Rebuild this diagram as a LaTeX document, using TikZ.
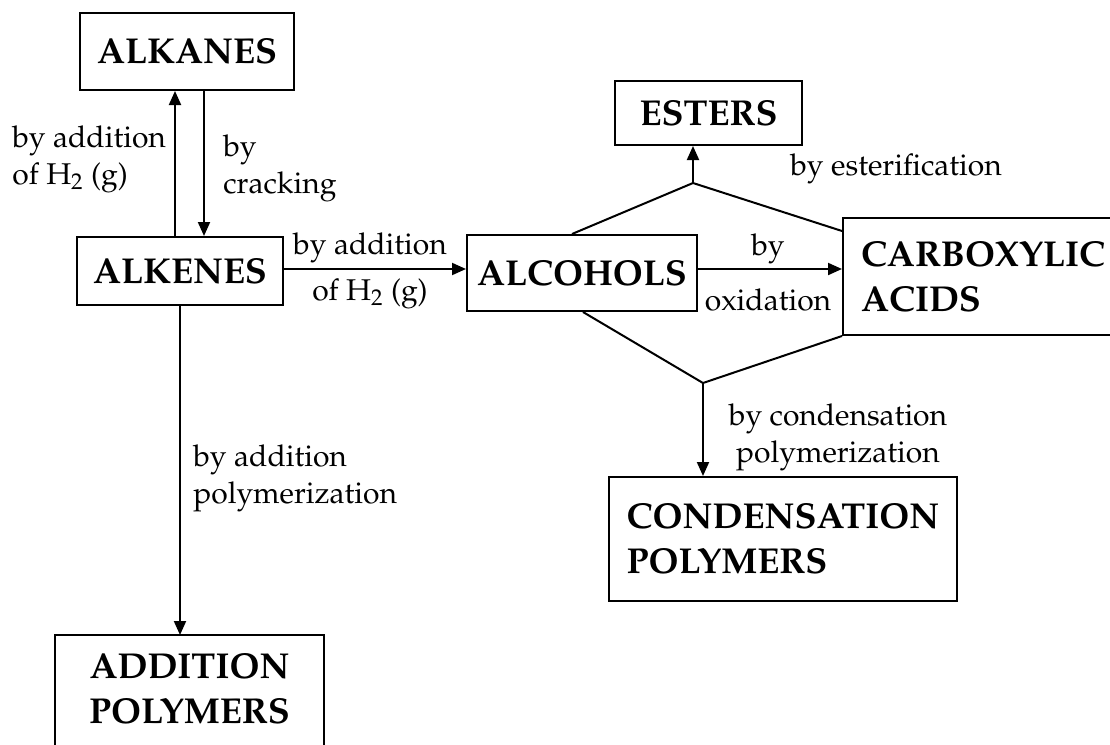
\documentclass[tikz,border=0pt]{standalone}
\usepackage[T1]{fontenc}
\usepackage{mathpazo}
\usetikzlibrary{arrows.meta,calc}
\tikzset{
  boxtext/.style={inner sep=0pt, font=\fontsize{18}{22.5}\selectfont\bfseries, align=center},
  box/.style={boxtext, draw, line width=1pt},
  lbl/.style={inner sep=0pt, font=\fontsize{15}{18.5}\selectfont},
  conn/.style={line width=1pt},
  arr/.style={line width=1pt, -{Triangle[length=7pt,width=6pt]}},
}
\begin{document}
\begin{tikzpicture}[x=0.5pt,y=-0.5pt]
\useasboundingbox (0,0) rectangle (1110,745);
\clip (0,0) rectangle (1110,745);
% boxes
\node[box, minimum width=107pt, minimum height=38.5pt] (alkanes) at (187,51.5) {ALKANES};
\node[box, minimum width=103pt, minimum height=34pt] (alkenes) at (180,271) {ALKENES};
\node[box, minimum width=115pt, minimum height=38pt] (alcohols) at (582,273) {ALCOHOLS};
\node[box, minimum width=93.5pt, minimum height=32pt] (esters) at (708.5,113) {ESTERS};
\node[box, align=left, minimum width=174pt, minimum height=62pt] (cond) at (783,539) {CONDENSATION\\POLYMERS};
\node[box, align=left, anchor=north west, inner xsep=9pt, text width=130pt, minimum height=58.5pt] (carb) at (842,217) {CARBOXYLIC\\ACIDS};
\node[boxtext, anchor=north, inner ysep=9pt, minimum width=134.5pt] (addpoly) at (189.5,635) {ADDITION\\POLYMERS};
\draw[conn] ([yshift=-100pt]addpoly.north west) -- (addpoly.north west) -- (addpoly.north east) -- ([yshift=-100pt]addpoly.north east);
% junction points
\coordinate (ap1) at (693,183);
\coordinate (ap2) at (703,383);
% connectors
\draw[arr] ([xshift=-2.5pt]alkenes.north) -- ([xshift=-2.5pt]alkenes.north |- alkanes.south);
\draw[arr] ([xshift=12pt]alkenes.north |- alkanes.south) -- ([xshift=12pt]alkenes.north);
\draw[arr] ([yshift=1pt]alkenes.east) -- ([yshift=1pt]alkenes.east -| alcohols.west);
\draw[arr] ([yshift=2pt]alcohols.east) -- ([yshift=2pt]alcohols.east -| carb.west);
\draw[arr] (alkenes.south) -- (alkenes.south |- addpoly.north);
\draw[conn] ([xshift=-5pt]alcohols.north) -- (ap1) -- ([yshift=-7pt]carb.north west);
\draw[arr] (ap1) -- (ap1 |- esters.south);
\draw[conn] ([xshift=0.5pt]alcohols.south) -- (ap2) -- (carb.south west);
\draw[arr] (ap2) -- (ap2 |- cond.north);
% labels
\node[lbl, anchor=base west, align=left] (l1) at (12,184) {by addition\\of H$_2$ (g)};
\node[lbl, anchor=base west, align=left] (l2) at (223,193) {by\\cracking};
\node[lbl, anchor=base] (l3) at (370,254) {by addition};
\node[lbl, anchor=base] (l4) at (370,300) {of H$_2$ (g)};
\node[lbl, anchor=base] (l5) at (768,255) {by};
\node[lbl, anchor=base] (l6) at (768,310) {oxidation};
\node[lbl, anchor=base west] (l7) at (790,175) {by esterification};
\node[lbl, anchor=base, align=center] (l8) at (838,462) {by condensation\\polymerization};
\node[lbl, anchor=base west, align=left] (l9) at (193,503) {by addition\\polymerization};
\end{tikzpicture}
\end{document}
